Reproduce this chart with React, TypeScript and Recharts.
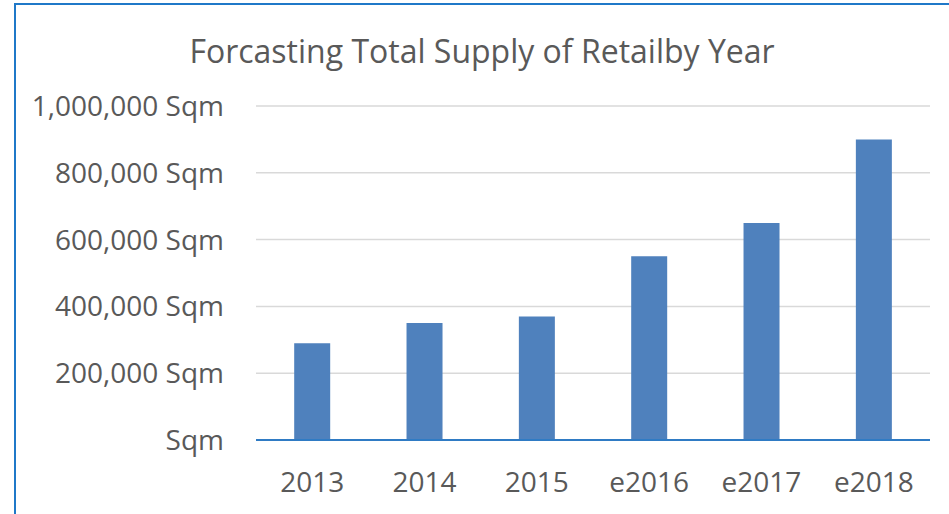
import { BarChart, Bar, XAxis, YAxis, CartesianGrid } from 'recharts'

const years = ['2013', '2014', '2015', 'e2016', 'e2017', 'e2018']
const supply = [290000, 350000, 370000, 550000, 650000, 900000]
const yTicks = [0, 200000, 400000, 600000, 800000, 1000000]

const chartData = years.map((year, i) => ({ year, supply: supply[i] }))

const TEXT = '#595959'
const FONT = '"Open Sans", sans-serif'

const formatSqm = (v: number) => (v === 0 ? 'Sqm' : `${v.toLocaleString('en-US')} Sqm`)

export default function App() {
  return (
    <div
      style={{
        position: 'fixed',
        left: 0,
        top: 0,
        width: 949,
        height: 514,
        background: '#fff',
        overflow: 'hidden',
        fontFamily: FONT,
      }}
    >
      <div
        style={{
          position: 'absolute',
          left: 14,
          top: 3,
          width: 949,
          height: 520,
          borderLeft: '2px solid #1f78c8',
          borderTop: '2px solid #1f78c8',
        }}
      />
      <div
        style={{
          position: 'absolute',
          left: 15,
          width: 934,
          top: 29,
          textAlign: 'center',
          fontSize: 32,
          color: TEXT,
          lineHeight: '44px',
        }}
      >
        Forcasting Total Supply of Retailby Year
      </div>
      <div style={{ position: 'absolute', left: 0, top: 0 }}>
        <BarChart
          width={949}
          height={514}
          data={chartData}
          margin={{ top: 106, right: 19, bottom: 0, left: 0 }}
          barCategoryGap="34%"
        >
          <CartesianGrid vertical={false} stroke="#d9d9d9" strokeWidth={1.5} />
          <XAxis
            dataKey="year"
            height={74}
            tickLine={false}
            tickSize={0}
            tickMargin={32}
            axisLine={{ stroke: '#2f7bc4', strokeWidth: 2 }}
            tick={{ fill: TEXT, fontSize: 28, fontFamily: FONT }}
          />
          <YAxis
            width={256}
            domain={[0, 1000000]}
            ticks={yTicks}
            tickFormatter={formatSqm}
            axisLine={false}
            tickLine={false}
            tickSize={0}
            tickMargin={32}
            tick={{ fill: TEXT, fontSize: 28, fontFamily: FONT }}
          />
          <Bar dataKey="supply" fill="#4f81bd" isAnimationActive={false} />
        </BarChart>
      </div>
    </div>
  )
}
